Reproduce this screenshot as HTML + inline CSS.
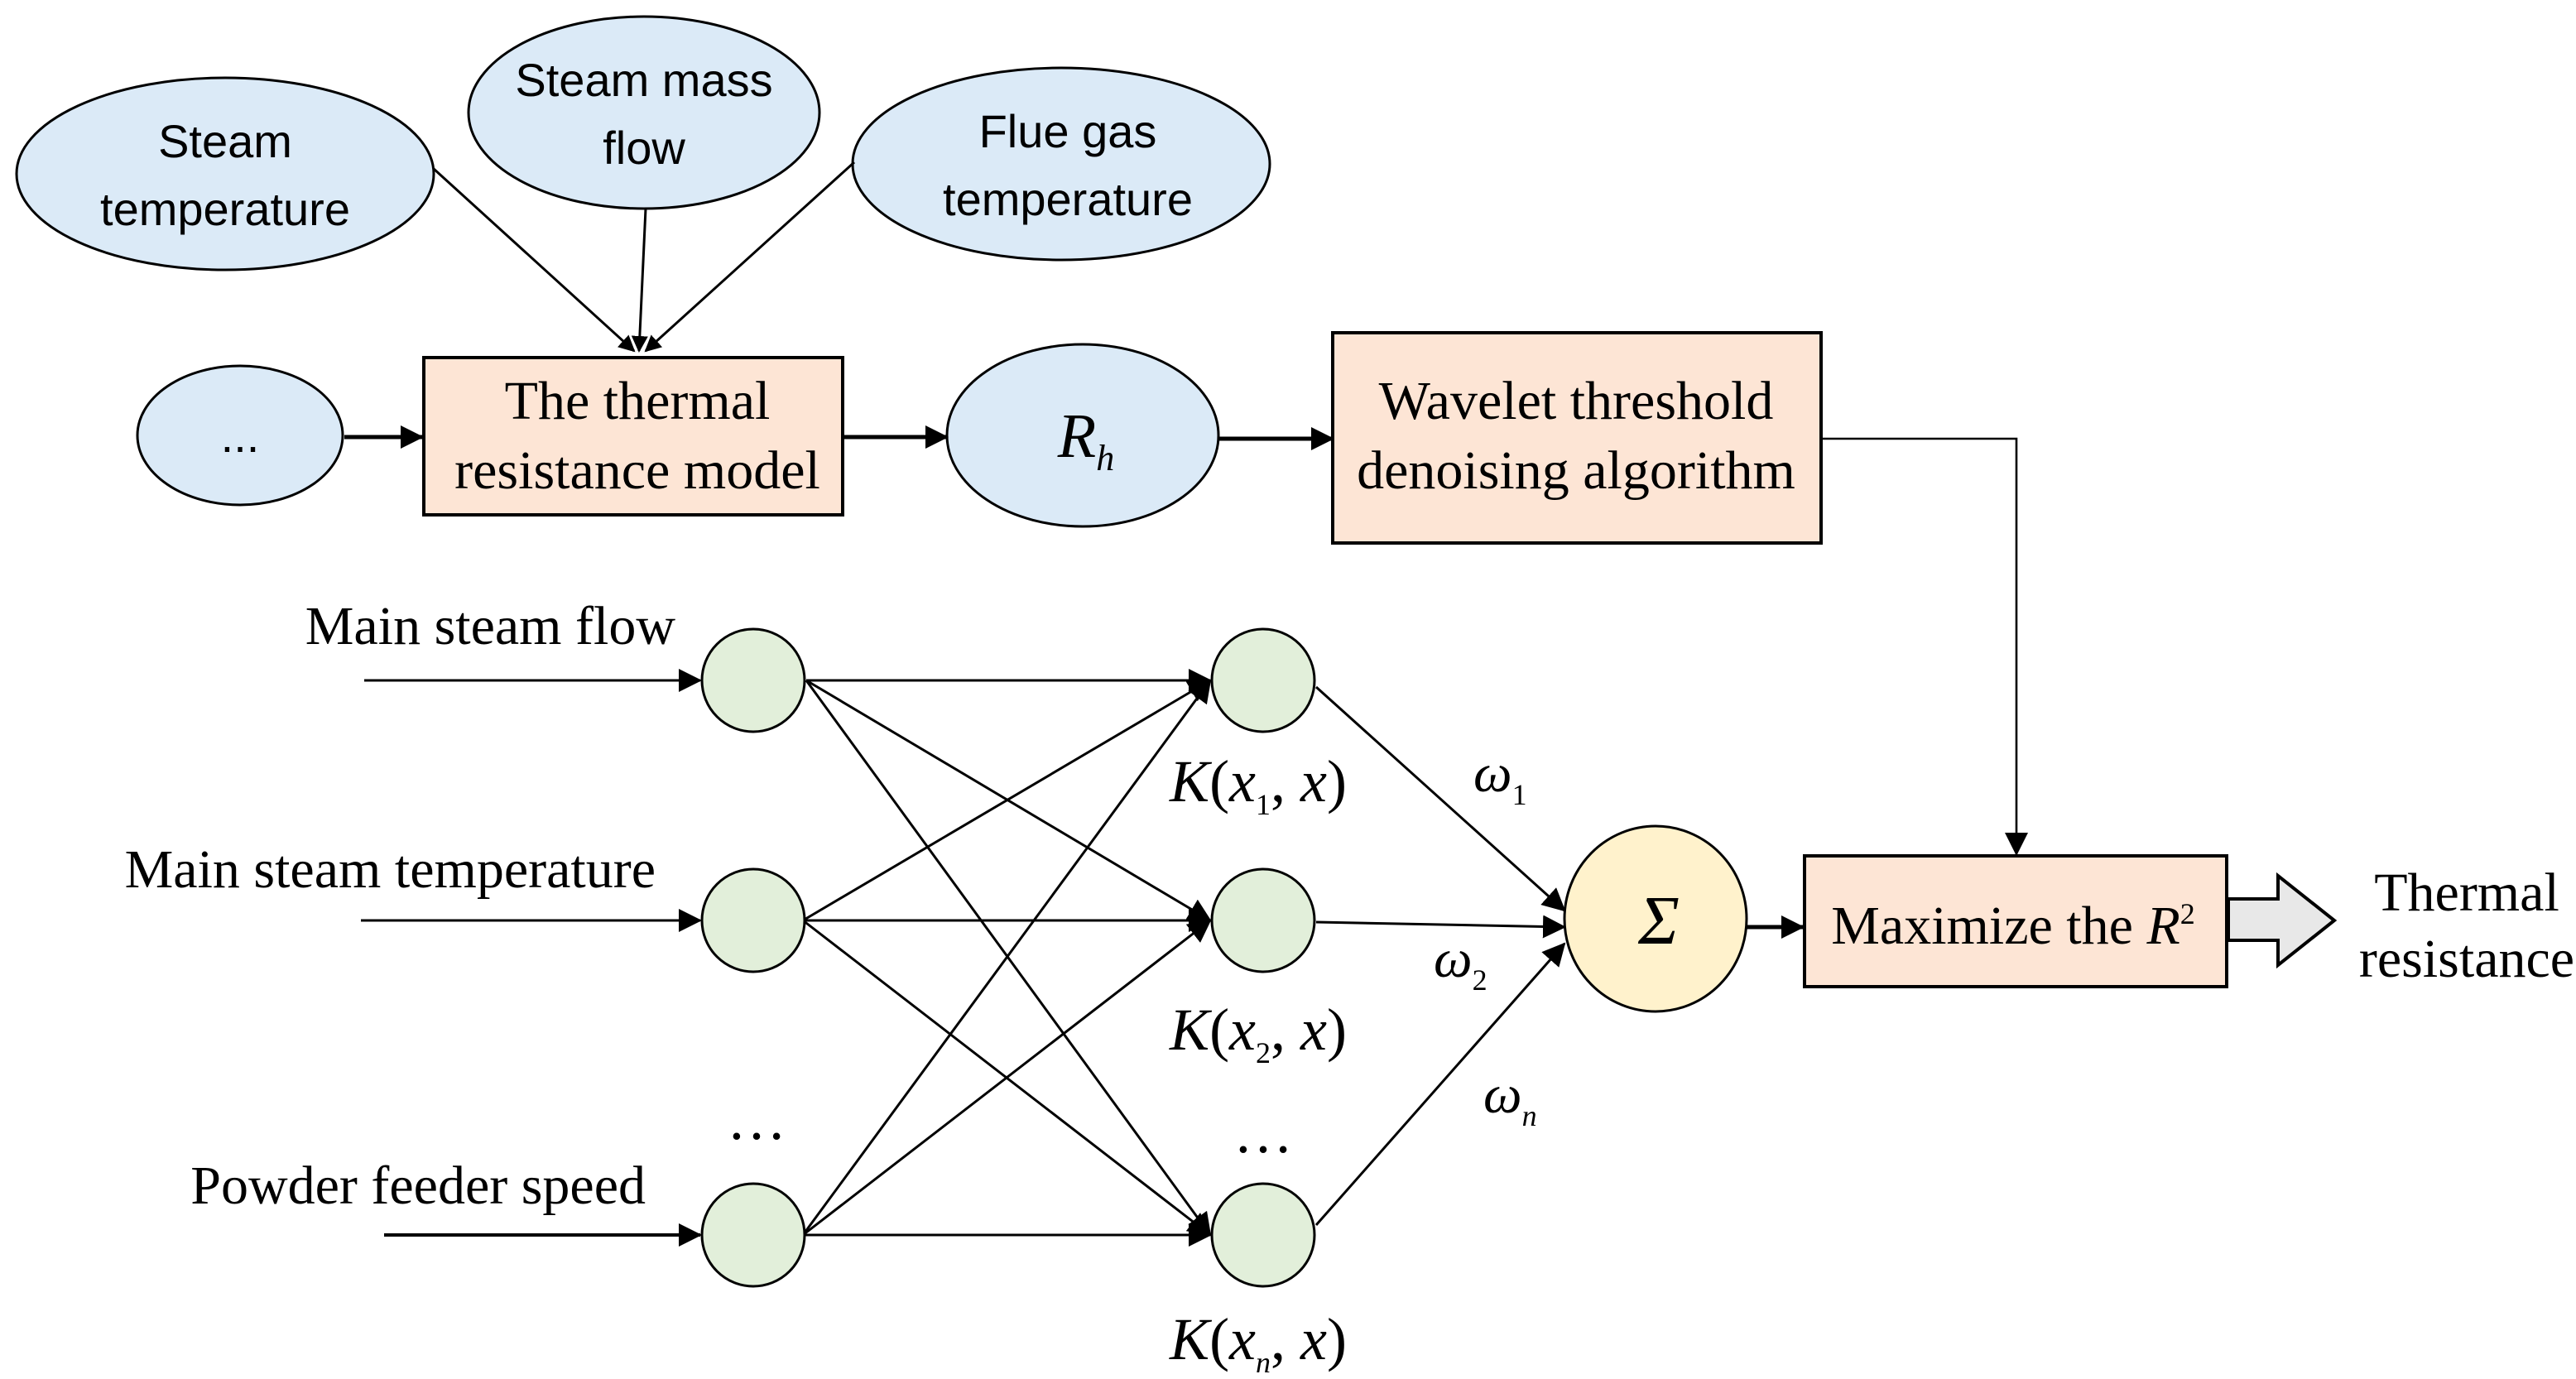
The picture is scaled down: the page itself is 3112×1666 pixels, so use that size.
<!DOCTYPE html>
<html><head><meta charset="utf-8"><style>
html,body{margin:0;padding:0;background:#fff;}
svg{display:block;}
.s{font-family:"Liberation Sans",sans-serif;font-size:28px;}
.t{font-family:"Liberation Serif",serif;font-size:33px;}
</style></head><body>
<svg width="3112" height="1666" viewBox="0 0 1556 833" xmlns="http://www.w3.org/2000/svg">
<defs>
<marker id="a" markerWidth="10" markerHeight="10" refX="9" refY="5" orient="auto" markerUnits="userSpaceOnUse"><path d="M0,0 L10,5 L0,10 z" fill="#000"/></marker>
<marker id="b" markerWidth="14" markerHeight="14" refX="13" refY="7" orient="auto" markerUnits="userSpaceOnUse"><path d="M0,0 L14,7 L0,14 z" fill="#000"/></marker>
</defs>
<g stroke="#000" stroke-width="1.5" fill="#dbeaf7">
<ellipse cx="136" cy="105" rx="126" ry="58"/>
<ellipse cx="389" cy="68" rx="106" ry="58"/>
<ellipse cx="641" cy="99" rx="126" ry="58"/>
<ellipse cx="145" cy="263" rx="62" ry="42"/>
<ellipse cx="654" cy="263" rx="82" ry="55"/>
</g>
<g stroke="#000" stroke-width="2" fill="#fde5d5">
<rect x="256" y="216" width="253" height="95"/>
<rect x="805" y="201" width="295" height="127"/>
<rect x="1090" y="517" width="255" height="79"/>
</g>
<ellipse cx="1000" cy="555" rx="55" ry="56" fill="#fff2cc" stroke="#000" stroke-width="1.5"/>
<g class="s" text-anchor="middle" fill="#000">
<text x="136" y="95">Steam</text><text x="136" y="136">temperature</text>
<text x="389" y="58">Steam mass</text><text x="389" y="99">flow</text>
<text x="645" y="89">Flue gas</text><text x="645" y="130">temperature</text>
<text x="145" y="273">...</text>
</g>
<g class="t" text-anchor="middle">
<text x="385" y="253">The thermal</text><text x="385" y="295">resistance model</text>
<text x="952" y="253">Wavelet threshold</text><text x="952" y="295">denoising algorithm</text>
<text x="1216" y="570">Maximize the <tspan font-style="italic">R</tspan><tspan font-size="18" dy="-12">2</tspan></text>
<text x="1490" y="550">Thermal</text><text x="1490" y="590">resistance</text>
<text x="1002" y="570" font-size="42" font-style="italic">Σ</text>
<text x="656" y="276" font-size="38" font-style="italic">R<tspan font-size="22" dy="8">h</tspan></text>
</g>
<g stroke="#000" fill="none">
<line x1="262" y1="102" x2="383" y2="212" stroke-width="1.5" marker-end="url(#a)"/>
<line x1="390" y1="126" x2="386" y2="212" stroke-width="1.5" marker-end="url(#a)"/>
<line x1="516" y1="98" x2="390" y2="212" stroke-width="1.5" marker-end="url(#a)"/>
<line x1="208" y1="264" x2="255" y2="264" stroke-width="2.5" marker-end="url(#b)"/>
<line x1="509" y1="264" x2="572" y2="264" stroke-width="2.5" marker-end="url(#b)"/>
<line x1="736" y1="265" x2="805" y2="265" stroke-width="2.5" marker-end="url(#b)"/>
<polyline points="1100,265 1218,265 1218,516" stroke-width="1.3" marker-end="url(#b)"/>
<line x1="1055" y1="560" x2="1089" y2="560" stroke-width="2.5" marker-end="url(#b)"/>
<polygon points="1346,543 1376,543 1376,529 1410,556 1376,583 1376,568 1346,568" fill="#e8e8e8" stroke-width="2"/>
<line x1="220" y1="411" x2="423" y2="411" stroke-width="1.5" marker-end="url(#b)"/>
<line x1="218" y1="556" x2="423" y2="556" stroke-width="1.5" marker-end="url(#b)"/>
<line x1="232" y1="746" x2="423" y2="746" stroke-width="2" marker-end="url(#b)"/>
<g stroke-width="1.5">
<line x1="487" y1="411" x2="731" y2="411" marker-end="url(#b)"/>
<line x1="487" y1="411" x2="731" y2="556" marker-end="url(#b)"/>
<line x1="487" y1="411" x2="731" y2="746" marker-end="url(#b)"/>
<line x1="485" y1="556" x2="731" y2="411" marker-end="url(#b)"/>
<line x1="485" y1="556" x2="731" y2="556" marker-end="url(#b)"/>
<line x1="485" y1="556" x2="731" y2="746" marker-end="url(#b)"/>
<line x1="485" y1="746" x2="731" y2="411" marker-end="url(#b)"/>
<line x1="485" y1="746" x2="731" y2="556" marker-end="url(#b)"/>
<line x1="485" y1="746" x2="731" y2="746" marker-end="url(#b)"/>
<line x1="795" y1="415" x2="945" y2="550" marker-end="url(#b)"/>
<line x1="795" y1="557" x2="945" y2="560" marker-end="url(#b)"/>
<line x1="795" y1="740" x2="945" y2="570" marker-end="url(#b)"/>
</g>
</g>
<g fill="#e2efda" stroke="#000" stroke-width="1.5">
<circle cx="455" cy="411" r="31"/><circle cx="455" cy="556" r="31"/><circle cx="455" cy="746" r="31"/>
<circle cx="763" cy="411" r="31"/><circle cx="763" cy="556" r="31"/><circle cx="763" cy="746" r="31"/>
</g>
<g class="t">
<text x="408" y="389" text-anchor="end">Main steam flow</text>
<text x="396" y="536" text-anchor="end">Main steam temperature</text>
<text x="390" y="727" text-anchor="end">Powder feeder speed</text>
<text x="457" y="688" text-anchor="middle" font-size="36">…</text>
<text x="763" y="696" text-anchor="middle" font-size="36">…</text>
<text x="760" y="484" text-anchor="middle" font-size="36"><tspan font-style="italic">K</tspan>(<tspan font-style="italic">x</tspan><tspan font-size="18" dy="8">1</tspan><tspan dy="-8">, </tspan><tspan font-style="italic">x</tspan>)</text>
<text x="760" y="634" text-anchor="middle" font-size="36"><tspan font-style="italic">K</tspan>(<tspan font-style="italic">x</tspan><tspan font-size="18" dy="8">2</tspan><tspan dy="-8">, </tspan><tspan font-style="italic">x</tspan>)</text>
<text x="760" y="821" text-anchor="middle" font-size="36"><tspan font-style="italic">K</tspan>(<tspan font-style="italic">x</tspan><tspan font-size="18" dy="8" font-style="italic">n</tspan><tspan dy="-8">, </tspan><tspan font-style="italic">x</tspan>)</text>
<text x="890" y="478" font-style="italic">ω<tspan font-size="18" dy="8" font-style="normal">1</tspan></text>
<text x="866" y="590" font-style="italic">ω<tspan font-size="18" dy="8" font-style="normal">2</tspan></text>
<text x="896" y="672" font-style="italic">ω<tspan font-size="18" dy="8">n</tspan></text>
</g>
</svg>
</body></html>
